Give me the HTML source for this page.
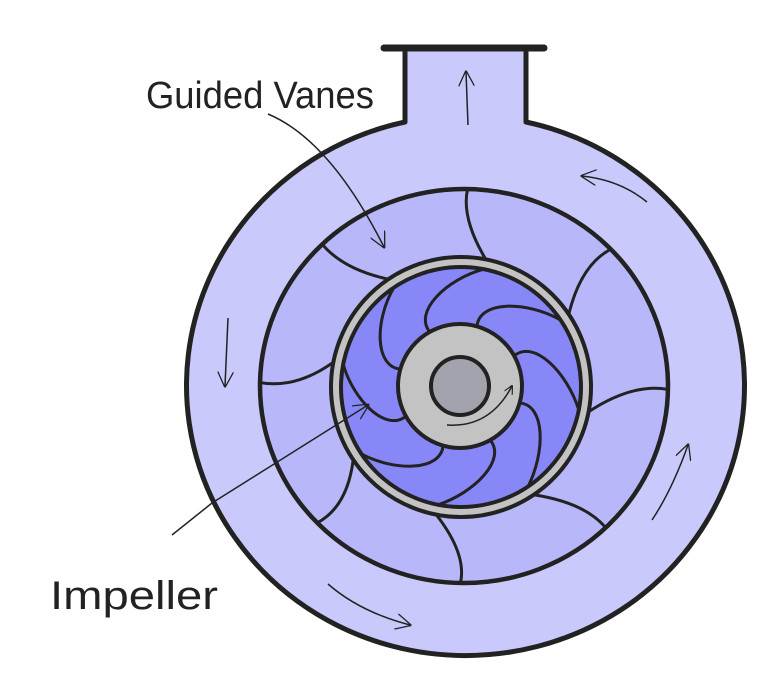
<!DOCTYPE html>
<html><head><meta charset="utf-8"><style>
html,body{margin:0;padding:0;background:#fff;}
svg{display:block}
text{font-family:"Liberation Sans",sans-serif;fill:#222;}
</style></head><body>
<svg id="s" width="768" height="694" viewBox="0 0 768 694" xmlns="http://www.w3.org/2000/svg">
<defs>
<marker id="ah" viewBox="0 0 10 10" refX="9" refY="5" markerWidth="9" markerHeight="9" orient="auto-start-reverse" markerUnits="userSpaceOnUse">
<path d="M0,0 L10,5 L0,10" fill="none" stroke="#222" stroke-width="1.3"/></marker>
<marker id="ah2" viewBox="0 0 10 10" refX="9" refY="5" markerWidth="16" markerHeight="16" orient="auto" markerUnits="userSpaceOnUse">
<path d="M0,0 L10,5 L0,10" fill="none" stroke="#222" stroke-width="0.8"/></marker>
</defs>
<path d="M405,48 L526,48 L526,122 A279,270 0 1 1 405,122 Z" fill="#c9c9fb" stroke="#222" stroke-width="5" stroke-linejoin="round"/>
<line x1="384" y1="48" x2="544" y2="48" stroke="#222" stroke-width="7" stroke-linecap="round"/>
<ellipse cx="464" cy="386" rx="204" ry="197" fill="#b7b7f9" stroke="#222" stroke-width="4.5"/>
<g id="gv" fill="none" stroke="#222" stroke-width="3"></g>
<circle cx="461" cy="387" r="125" fill="#8787f7" stroke="#c3c3c3" stroke-width="10"/>
<circle cx="461" cy="387" r="130" fill="none" stroke="#222" stroke-width="4"/>
<circle cx="461" cy="387" r="120" fill="none" stroke="#222" stroke-width="4"/>
<g id="iv" fill="none" stroke="#222" stroke-width="3"></g>
<circle cx="460" cy="386" r="62" fill="#c3c3c3" stroke="#222" stroke-width="4"/>
<circle cx="460" cy="386" r="29" fill="#a3a3ae" stroke="#222" stroke-width="4"/>
<g fill="none" stroke="#222" stroke-width="1.5">
<path d="M447,425 Q490,428 512,386" marker-end="url(#ah)"/>
<path d="M468,125 L466,72" marker-end="url(#ah2)"/>
<path d="M647,202 Q620,180 582,176" marker-end="url(#ah2)"/>
<path d="M228,318 L225,386" marker-end="url(#ah2)"/>
<path d="M328,584 Q360,612 410,625" marker-end="url(#ah2)"/>
<path d="M652,520 Q672,490 688,445" marker-end="url(#ah2)"/>
<path d="M172,535 L212,503 L368,405" marker-end="url(#ah2)"/>
<path d="M268,114 Q330,140 384,247" marker-end="url(#ah2)"/>
</g>
<text x="146" y="108" font-size="38" textLength="228" lengthAdjust="spacingAndGlyphs">Guided Vanes</text>
<text x="50" y="609" font-size="40" textLength="168" lengthAdjust="spacingAndGlyphs">Impeller</text>
</svg>
<script>
(function(){
var ns="http://www.w3.org/2000/svg";
function P(cx,cy,r,a,ry){a=a*Math.PI/180;return [cx+r*Math.cos(a),cy+(ry||r)*Math.sin(a)];}
var gv=document.getElementById('gv'),iv=document.getElementById('iv');
for(var k=0;k<8;k++){
 var t=-89+45*k;
 var a=P(464,386,204,t,197),b=P(461,387,130,t+10),c=P(464,386,168,t-2);
 var p=document.createElementNS(ns,'path');
 p.setAttribute('d','M'+a+' Q'+c+' '+b);gv.appendChild(p);
 var f=-74+45*k;
 var h=P(460,386,61,f),c1=P(460,386,88,f-4),c2=P(460,386,108,f+22),e=P(461,387,120,f+40);
 var q=document.createElementNS(ns,'path');
 q.setAttribute('d','M'+h+' C'+c1+' '+c2+' '+e);iv.appendChild(q);
}
})();
</script>
</body></html>
